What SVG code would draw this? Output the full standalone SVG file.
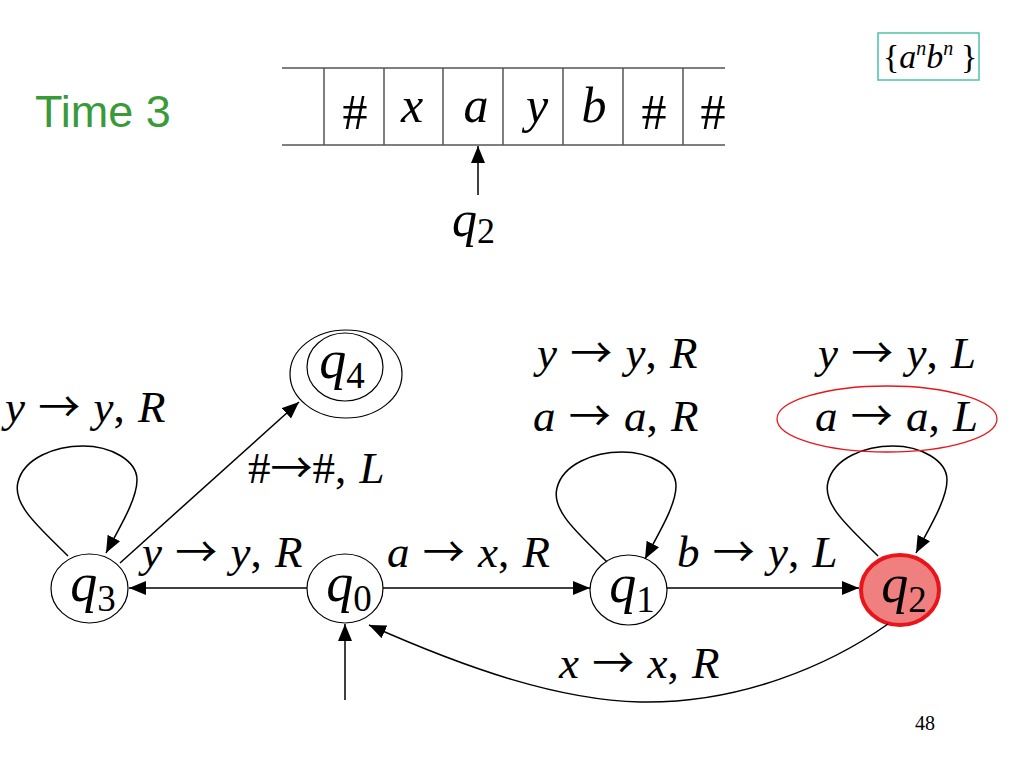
<svg xmlns="http://www.w3.org/2000/svg" width="1024" height="768" viewBox="0 0 1024 768">
<style>
  .t { font-family: "Liberation Serif", Tinos, "Times New Roman", "DejaVu Serif", serif; fill: #000; }
  .i { font-style: italic; }
  .ar { font-family: "Noto Sans CJK SC", "Noto Sans CJK JP", sans-serif; font-size: 42px; }
  .lbl { font-size: 45px; word-spacing: 2px; }
  .st { font-size: 54px; }
  .sub { font-size: 37px; }
  .node { fill: #fff; stroke: #000; stroke-width: 1.2; }
  .edge { fill: none; stroke: #000; stroke-width: 1.5; }
  .tape { stroke: #555; stroke-width: 1.5; fill: none; }
</style>
<defs>
  <marker id="ah" markerUnits="userSpaceOnUse" markerWidth="20" markerHeight="16" refX="17" refY="7" orient="auto">
    <path d="M0,0 L17,7 L0,14 Z" fill="#000"/>
  </marker>
</defs>
<rect width="1024" height="768" fill="#fff"/>

<!-- title -->
<text x="35" y="127" font-family="Liberation Sans, Arial, sans-serif" font-size="45" fill="#3a9a3a">Time 3</text>

<!-- language box -->
<g id="lang">
  <rect x="878" y="33" width="101" height="47" fill="#fff" stroke="#4cc3a5" stroke-width="1.5"/>
  <text class="t" x="883" y="68" font-size="34">{<tspan class="i">a</tspan><tspan class="i" font-size="20" dy="-13">n</tspan><tspan class="i" dy="13">b</tspan><tspan class="i" font-size="20" dy="-13">n</tspan><tspan dy="13" x="961">}</tspan></text>
</g>

<!-- tape -->
<g id="tape">
  <line class="tape" x1="282" y1="68" x2="725" y2="68"/>
  <line class="tape" x1="282" y1="145" x2="725" y2="145"/>
  <line class="tape" x1="324" y1="68" x2="324" y2="145"/>
  <line class="tape" x1="384" y1="68" x2="384" y2="145"/>
  <line class="tape" x1="443" y1="68" x2="443" y2="145"/>
  <line class="tape" x1="503" y1="68" x2="503" y2="145"/>
  <line class="tape" x1="563" y1="68" x2="563" y2="145"/>
  <line class="tape" x1="623" y1="68" x2="623" y2="145"/>
  <line class="tape" x1="683" y1="68" x2="683" y2="145"/>
  <g class="t" font-size="50" text-anchor="middle">
    <text x="355" y="129">#</text>
    <text class="i" x="412" y="122">x</text>
    <text class="i" x="476" y="122">a</text>
    <text class="i" x="537" y="122">y</text>
    <text class="i" x="594" y="122">b</text>
    <text x="654" y="129">#</text>
    <text x="713" y="129">#</text>
  </g>
  <line class="edge" x1="478" y1="195" x2="478" y2="146" marker-end="url(#ah)"/>
  <text class="t" x="452" y="236" font-size="50"><tspan class="i">q</tspan><tspan font-size="36" dy="7">2</tspan></text>
</g>

<!-- states -->
<g id="q3">
  <ellipse class="node" cx="89.5" cy="588.5" rx="38.5" ry="34.5"/>
  <text class="t st" x="93" y="601" text-anchor="middle"><tspan class="i">q</tspan><tspan class="sub" dy="10">3</tspan></text>
</g>
<g id="q0">
  <ellipse class="node" cx="345" cy="588.5" rx="38" ry="34.5"/>
  <text class="t st" x="349" y="601" text-anchor="middle"><tspan class="i">q</tspan><tspan class="sub" dy="10">0</tspan></text>
</g>
<g id="q1">
  <ellipse class="node" cx="628.5" cy="590" rx="38.5" ry="35"/>
  <text class="t st" x="632" y="602" text-anchor="middle"><tspan class="i">q</tspan><tspan class="sub" dy="10">1</tspan></text>
</g>
<g id="q2">
  <ellipse cx="900" cy="590" rx="39" ry="35" fill="#f08080" stroke="#e8161b" stroke-width="4"/>
  <text class="t st" x="904" y="602" text-anchor="middle"><tspan class="i">q</tspan><tspan class="sub" dy="10">2</tspan></text>
</g>
<g id="q4">
  <ellipse class="node" cx="346" cy="374" rx="56" ry="44"/>
  <ellipse class="node" cx="345" cy="367" rx="38" ry="34"/>
  <text class="t st" x="342" y="378" text-anchor="middle"><tspan class="i">q</tspan><tspan class="sub" dy="10">4</tspan></text>
</g>

<!-- connectors -->
<g id="connectors">
  <line class="edge" x1="307" y1="588" x2="129" y2="588" marker-end="url(#ah)"/>
  <line class="edge" x1="383" y1="588" x2="590" y2="588" marker-end="url(#ah)"/>
  <line class="edge" x1="667" y1="588" x2="859" y2="588" marker-end="url(#ah)"/>
  <line class="edge" x1="120" y1="563" x2="299" y2="402" marker-end="url(#ah)"/>
  <line class="edge" x1="345" y1="700" x2="345" y2="624" marker-end="url(#ah)"/>
  <path class="edge" d="M888,624 C830,665 740,704 640,702 C560,700 470,670 369,625" marker-end="url(#ah)"/>
  <path class="edge" d="M68,556 C40,528 12,505 18,482 C24,458 55,446 83,446 C110,446 137,460 137,480 C137,500 118,530 106,553" marker-end="url(#ah)"/>
  <path class="edge" transform="translate(539,6)" d="M68,556 C40,528 12,505 18,482 C24,458 55,446 83,446 C110,446 137,460 137,480 C137,500 118,530 106,553" marker-end="url(#ah)"/>
  <path class="edge" transform="translate(810,0)" d="M68,556 C40,528 12,505 18,482 C24,458 55,446 83,446 C110,446 137,460 137,480 C137,500 118,530 106,553" marker-end="url(#ah)"/>
</g>

<!-- edge labels -->
<g id="labels" class="t lbl">
  <text x="5" y="422"><tspan class="i">y</tspan> <tspan class="ar">→</tspan> <tspan class="i">y</tspan>, <tspan class="i">R</tspan></text>
  <text x="248" y="483">#<tspan class="ar">→</tspan>#, <tspan class="i">L</tspan></text>
  <text x="142" y="567"><tspan class="i">y</tspan> <tspan class="ar">→</tspan> <tspan class="i">y</tspan>, <tspan class="i">R</tspan></text>
  <text x="387" y="567"><tspan class="i">a</tspan> <tspan class="ar">→</tspan> <tspan class="i">x</tspan>, <tspan class="i">R</tspan></text>
  <text x="677" y="567"><tspan class="i">b</tspan> <tspan class="ar">→</tspan> <tspan class="i">y</tspan>, <tspan class="i">L</tspan></text>
  <text x="559" y="678"><tspan class="i">x</tspan> <tspan class="ar">→</tspan> <tspan class="i">x</tspan>, <tspan class="i">R</tspan></text>
  <text x="537" y="368"><tspan class="i">y</tspan> <tspan class="ar">→</tspan> <tspan class="i">y</tspan>, <tspan class="i">R</tspan></text>
  <text x="533" y="431"><tspan class="i">a</tspan> <tspan class="ar">→</tspan> <tspan class="i">a</tspan>, <tspan class="i">R</tspan></text>
  <text x="818" y="368"><tspan class="i">y</tspan> <tspan class="ar">→</tspan> <tspan class="i">y</tspan>, <tspan class="i">L</tspan></text>
  <text x="815" y="431"><tspan class="i">a</tspan> <tspan class="ar">→</tspan> <tspan class="i">a</tspan>, <tspan class="i">L</tspan></text>
</g>
<ellipse cx="887" cy="419" rx="110" ry="33" fill="none" stroke="#e8161b" stroke-width="1.3"/>

<text x="915" y="730" font-family="Liberation Serif, Times New Roman, serif" font-size="20">48</text>
</svg>
